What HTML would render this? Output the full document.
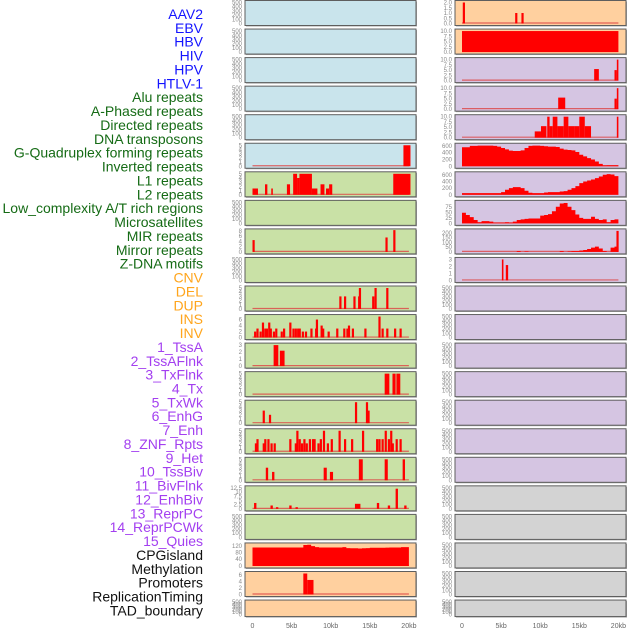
<!DOCTYPE html>
<html><head><meta charset="utf-8">
<style>
html,body{margin:0;padding:0;background:#fff;}
svg{display:block;font-family:"Liberation Sans",sans-serif;}
</style></head>
<body>
<svg id="chart" width="630" height="630" viewBox="0 0 630 630"></svg>
<script>
// ---------- labels ----------
const labelTexts = ["AAV2","EBV","HBV","HIV","HPV","HTLV-1","Alu repeats","A-Phased repeats","Directed repeats","DNA transposons","G-Quadruplex forming repeats","Inverted repeats","L1 repeats","L2 repeats","Low_complexity A/T rich regions","Microsatellites","MIR repeats","Mirror repeats","Z-DNA motifs","CNV","DEL","DUP","INS","INV","1_TssA","2_TssAFlnk","3_TxFlnk","4_Tx","5_TxWk","6_EnhG","7_Enh","8_ZNF_Rpts","9_Het","10_TssBiv","11_BivFlnk","12_EnhBiv","13_ReprPC","14_ReprPCWk","15_Quies","CPGisland","Methylation","Promoters","ReplicationTiming","TAD_boundary"];
const labelGroups = ["v","v","v","v","v","v","r","r","r","r","r","r","r","r","r","r","r","r","r","s","s","s","s","s","c","c","c","c","c","c","c","c","c","c","c","c","c","c","c","k","k","k","k","k"];
const xTickLabels = ["0","5kb","10kb","15kb","20kb"];
const xTickValues = [0,5,10,15,20];

// ---------- left column series (kb positions, values) ----------
const L5s=[19.3], L5e=[20.2], L5v=[5];
const L6s=[0,1.6,2.4,4.4,5.2,5.7,6.0,7.6,8.7,9.4,9.8,18.0];
const L6e=[0.7,1.9,2.6,4.8,5.7,6.0,7.6,8.3,9.2,9.8,10.2,20.2];
const L6v=[1.5,2.5,1.5,2.5,5,4,5,1.5,2.5,1.5,2.5,5];
const L8s=[0.0,17.0,18.0], L8v=[4.5,5.5,8.3];
const L10s=[11.1,11.7,12.9,13.5,13.6,15.3,15.6,17.1], L10v=[3,3,3,3,5,3,5,5];
const L11s=[0.2,0.5,0.9,1.2,1.5,1.7,2.0,2.2,2.6,2.9,3.6,3.9,4.7,5.1,5.4,5.7,5.9,6.3,6.7,7.4,8.0,8.1,8.7,8.9,9.6,10.7,11.6,12.0,12.2,12.7,14.3,16.1,16.5,17.1,18.1,18.8];
const L11v=[2,3,2,5,3,3,5,3,2,3,2,3,5,3,3,3,3,2,2,3,3,6,4,3,2,3,3,3,4,3,3,7,3,3,3,3];
const L12s=[2.7,3.5], L12e=[3.3,4.1], L12v=[3,2.2];
const L13s=[16.9,17.9,18.4], L13e=[17.5,18.3,18.9], L13v=[5,5,5];
const L14s=[1.3,2.1,13.1,14.5,14.7], L14v=[3,2,5,5,3];
const L15s=[0.3,0.5,1.3,1.5,1.9,2.3,2.7,4.7,5.4,5.6,5.9,6.2,6.5,6.8,7.2,7.6,7.8,8.3,8.6,9.0,9.5,10.0,11.0,11.7,12.6,14.0,15.8,16.1,16.5,16.9,17.3,17.6,17.8,18.3,18.8];
const L15v=[2,3,2,3,3,2,2,3,2,5,3,2,3,2,3,3,3,2,3,5,2,3,5,3,3,5,3,3,3,5,3,5,2,3,3];
const L16s=[1.7,2.5,9.1,9.9,13.6,16.9,19.2], L16e=[2.0,2.8,9.5,10.3,14.1,17.3,19.5], L16v=[3,2,3,2,5,5,5];
const L17s=[0.2,2.3,3.0,4.7,5.5,13.1,15.9,17.3,18.3,19.4], L17e=[0.5,2.6,3.3,5.0,5.8,13.8,16.2,17.6,18.6,19.7], L17v=[3.5,2,1,2,1,3,3.5,2,12,2];
const L19bins=[110,110,110,110,110,110,110,110,110,110,110,110,110,125,126,118,112,110,110,110,110,110,110,112,106,105,105,104,105,106,108,108,108,108,109,110,110,110,112,112];
const L20s=[6.5,7.0], L20e=[7.0,7.8], L20v=[6.5,4.5];

// ---------- right column series ----------
const R0s=[0.1,6.8,7.6], R0v=[2,1,1];
const R1s=[0.0], R1e=[20.0], R1v=[10];
const R2s=[16.9,19.5,19.8], R2e=[17.5,19.8,20.0], R2v=[5.5,5,10];
const R3s=[12.3,19.5,19.8], R3e=[13.2,19.8,20.0], R3v=[5.5,5,10];
const R4s=[9.3,10.1,10.9,11.2,11.6,12.2,13.0,13.6,14.4,15.0,15.7,19.8];
const R4e=[10.1,10.8,11.2,11.6,12.2,13.0,13.6,14.4,15.0,15.7,16.5,20.0];
const R4v=[3,5.5,10,5.5,10,5.5,10,5.5,5.5,10,5.5,10];
const R5bins=[560,560,600,600,610,610,610,610,600,580,540,500,460,450,450,470,540,600,610,610,600,590,580,580,570,520,490,480,470,420,340,290,240,200,140,70,25,30,30,30];
const R6bins=[50,50,50,50,50,50,50,50,50,50,80,150,200,230,230,200,120,60,50,50,50,70,80,80,80,100,110,150,200,260,350,400,430,460,500,550,600,620,610,560];
const R7bins=[48,38,28,15,5,10,10,8,3,3,3,5,3,8,15,18,20,22,22,22,35,38,42,55,75,90,92,75,60,40,25,20,20,30,20,15,18,5,15,18];
const R8bins=[0,0,0,0,0,0,0,0,0,0,0,0,0,0,10,0,5,0,0,0,0,0,0,0,0,10,0,5,10,10,15,20,30,45,55,35,10,0,45,55];
const R8spikeS=[19.75], R8spikeV=[220];
const R9s=[5.1,5.6], R9e=[5.3,5.9], R9v=[3,2.2];

// ---------- tick sets ----------
const tEmpty=[0,100,200,300,400,500];
const t5=[0,1,2,3,4,5], t8=[0,2,4,6,8], t6=[0,2,4,6], t3=[0,1,2,3], t125=[0,2.5,5,7.5,10,12.5];
const t120=[0,40,80,120], t2=[0,0.5,1,1.5,2], t10=[0,2.5,5,7.5,10], t600=[0,200,400,600], t75=[0,25,50,75], t200=[0,50,100,150,200];

const BG={b:"#c9e4ec",g:"#c9e1a6",o:"#ffd09f",p:"#d5c5e2",x:"#d3d3d3"};
const NS="http://www.w3.org/2000/svg";
const svg=document.getElementById("chart");
function mk(tag,attrs,parent){const e=document.createElementNS(NS,tag);for(const k in attrs)e.setAttribute(k,attrs[k]);(parent||svg).appendChild(e);return e;}

const labelColor={v:"#1414ff",r:"#156b15",s:"#ffa51c",c:"#a33ff0",k:"#111"};
labelTexts.forEach((t,i)=>{
  const el=mk("text",{x:203,y:14+13.87*i+5,"text-anchor":"end","font-size":"14",fill:labelColor[labelGroups[i]]});
  el.textContent=t;
  
  
});

const cols=[{x0:245,x1:416,k0:252.5,side:"left"},{x0:455,x1:626,k0:462,side:"right"}];
const KB=7.82;
function rowTop(i){return 0.5+28.55*i;}

const panels=[
 [0,0,"b",500,tEmpty],[0,1,"b",500,tEmpty],[0,2,"b",500,tEmpty],[0,3,"b",500,tEmpty],[0,4,"b",500,tEmpty],
 [0,5,"b",5,t5,"bar",L5s,L5e,L5v],
 [0,6,"g",5,t5,"bar",L6s,L6e,L6v],
 [0,7,"g",500,tEmpty],
 [0,8,"g",8,t8,"spike",L8s,null,L8v],
 [0,9,"g",500,tEmpty],
 [0,10,"g",5,t5,"spike",L10s,null,L10v],
 [0,11,"g",7,t6,"spike",L11s,null,L11v],
 [0,12,"g",3,t3,"bar",L12s,L12e,L12v],
 [0,13,"g",5,t5,"bar",L13s,L13e,L13v],
 [0,14,"g",5,t5,"spike",L14s,null,L14v],
 [0,15,"g",5,t5,"spike",L15s,null,L15v],
 [0,16,"g",5,t5,"bar",L16s,L16e,L16v],
 [0,17,"g",12.5,t125,"bar",L17s,L17e,L17v],
 [0,18,"g",500,tEmpty],
 [0,19,"o",125,t120,"area",L19bins],
 [0,20,"o",6.5,t6,"bar",L20s,L20e,L20v],
 [0,21,"o",500,tEmpty],
 [1,0,"o",2,t2,"spike",R0s,null,R0v],
 [1,1,"o",10,t10,"bar",R1s,R1e,R1v],
 [1,2,"p",10,t10,"bar",R2s,R2e,R2v],
 [1,3,"p",10,t10,"bar",R3s,R3e,R3v],
 [1,4,"p",10,t10,"bar",R4s,R4e,R4v],
 [1,5,"p",620,t600,"area",R5bins],
 [1,6,"p",630,t600,"area",R6bins],
 [1,7,"p",95,t75,"area",R7bins],
 [1,8,"p",220,t200,"area",R8bins,R8spikeS,R8spikeV],
 [1,9,"p",3,t3,"bar",R9s,R9e,R9v],
 [1,10,"p",500,tEmpty],[1,11,"p",500,tEmpty],[1,12,"p",500,tEmpty],[1,13,"p",500,tEmpty],
 [1,14,"p",500,tEmpty],[1,15,"p",500,tEmpty],[1,16,"p",500,tEmpty],
 [1,17,"x",500,tEmpty],[1,18,"x",500,tEmpty],[1,19,"x",500,tEmpty],[1,20,"x",500,tEmpty],[1,21,"x",500,tEmpty]
];

panels.forEach(p=>{
  const [ci,ri,bg,ymax,ticks,type,a,b,c]=p;
  const col=cols[ci];
  const top=rowTop(ri);
  const h=(ri===21)?16.5:25;
  const g=mk("g",{});
  
  
  mk("rect",{x:col.x0+1,y:top+1,width:col.x1-col.x0,height:h,fill:"#a8a8a8"},g);
  mk("rect",{x:col.x0,y:top,width:col.x1-col.x0,height:h,fill:BG[bg],stroke:"#5e5e5e","stroke-width":1},g);
  const y0=top+h-2, yT=top+2;
  const ys=v=>y0-(v/ymax)*(y0-yT);
  const xs=k=>col.k0+k*KB;
  ticks.forEach(t=>{
    const tl=mk("text",{x:col.x0-3,y:ys(t)+2,"text-anchor":"end","font-size":"6",fill:"#888"},g);
    tl.textContent=(ticks===t2||ticks===t10)?t.toFixed(1):String(t);
    
    
  });
  if(!type) return;
  mk("line",{x1:xs(0),x2:xs(20),y1:y0-0.5,y2:y0-0.5,stroke:"#d44","stroke-width":1.2,opacity:0.8},g);
  if(type==="bar"){
    a.forEach((s,i)=>{
      const r=mk("rect",{x:xs(s),y:ys(c[i]),width:Math.max(1.5,xs(b[i])-xs(s)),height:y0-ys(c[i]),fill:"#ff0000"},g);
      
      
    });
  } else if(type==="spike"){
    a.forEach((s,i)=>{
      const r=mk("rect",{x:xs(s),y:ys(c[i]),width:2.2,height:y0-ys(c[i]),fill:"#ff0000"},g);
      
      
    });
  } else if(type==="area"){
    let d="M"+xs(0)+","+y0;
    a.forEach((v,i)=>{d+=" L"+xs(i*0.5)+","+ys(v)+" L"+xs(i*0.5+0.5)+","+ys(v);});
    d+=" L"+xs(20)+","+y0+" Z";
    const pa=mk("path",{d:d,fill:"#ff0000"},g);
    
    
    if(b){
      b.forEach((s,i)=>{
        const r=mk("rect",{x:xs(s),y:ys(c[i]),width:2.2,height:y0-ys(c[i]),fill:"#ff0000"},g);
        
        
      });
    }
  }
});

cols.forEach(col=>{
  xTickValues.forEach((v,i)=>{
    const t=mk("text",{x:col.k0+v*KB,y:628,"text-anchor":"middle","font-size":"7",fill:"#666"});
    t.textContent=xTickLabels[i];
    
    
  });
});
</script>
</body></html>
